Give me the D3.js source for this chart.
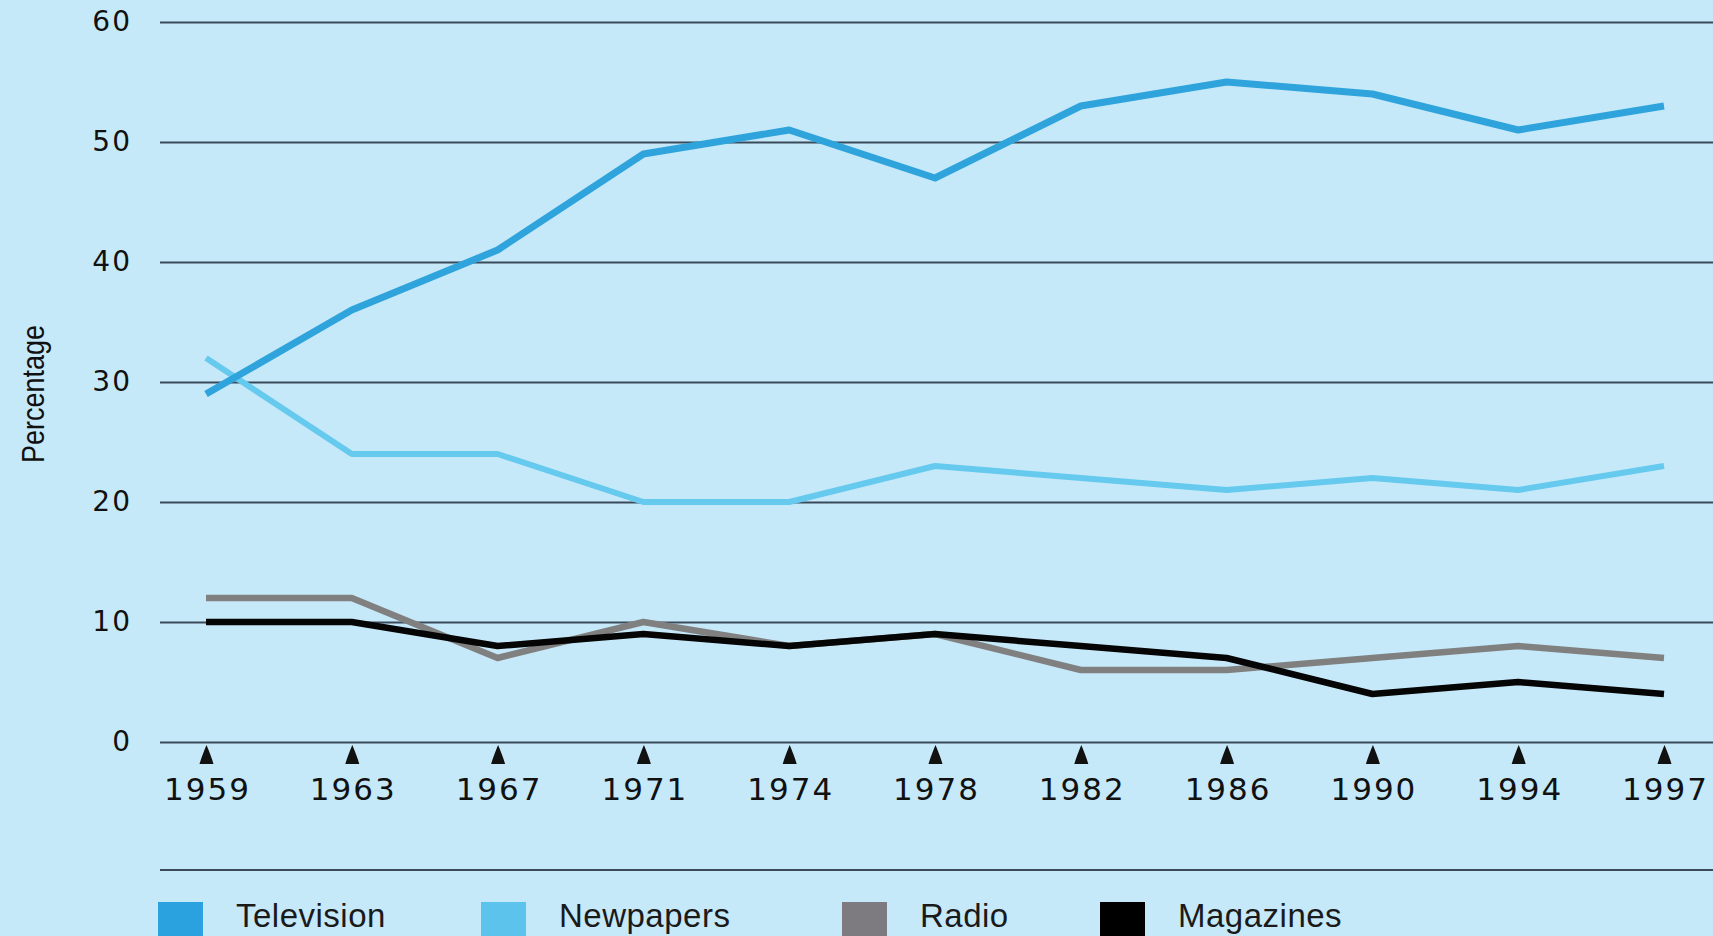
<!DOCTYPE html>
<html>
<head>
<meta charset="utf-8">
<script src="https://cdn.jsdelivr.net/npm/d3@7"></script>
<style>
  html, body { margin: 0; padding: 0; background: #c6e9f9; }
  svg { display: block; }
  .grid line { stroke: #3b4a5a; stroke-width: 2; }
  .y-axis text { font-family: "DejaVu Sans", sans-serif; font-size: 28px; fill: #111; letter-spacing: 2px; }
  .x-axis text { font-family: "DejaVu Sans", sans-serif; font-size: 31px; fill: #111; letter-spacing: 2px; }
  .label { font-family: "Liberation Sans", sans-serif; font-size: 32px; fill: #111; }
  .legend-text { font-family: "Liberation Sans", sans-serif; font-size: 33px; fill: #1a1a1a; letter-spacing: 0.5px; }
  .series { fill: none; stroke-linejoin: round; stroke-linecap: butt; }
</style>
</head>
<body>
<div id="chart"></div>
<script>
var width = 1713;
var height = 936;

// data
var years = ["1959", "1963", "1967", "1971", "1974", "1978", "1982", "1986", "1990", "1994", "1997"];
var television = [29, 36, 41, 49, 51, 47, 53, 55, 54, 51, 53];
var newspapers = [32, 24, 24, 20, 20, 23, 22, 21, 22, 21, 23];
var radio      = [12, 12, 7, 10, 8, 9, 6, 6, 7, 8, 7];
var magazines  = [10, 10, 8, 9, 8, 9, 8, 7, 4, 5, 4];
var yTicks = [0, 10, 20, 30, 40, 50, 60];
var seriesNames = ["Television", "Newpapers", "Radio", "Magazines"];

// styles
var colours = {
  "Television": "#2fa4dc",
  "Newpapers": "#66c9ee",
  "Radio": "#808080",
  "Magazines": "#050505"
};
var legendColours = {
  "Television": "#2aa2df",
  "Newpapers": "#5cc4ec",
  "Radio": "#7d7b80",
  "Magazines": "#000000"
};
var lineWidths = { "Television": 7, "Newpapers": 6, "Radio": 6.5, "Magazines": 6.5 };

var series = [
  { name: "Radio", values: radio },
  { name: "Magazines", values: magazines },
  { name: "Newpapers", values: newspapers },
  { name: "Television", values: television }
];

var svg = d3.select("#chart")
            .append("svg")
              .attr("width", width)
              .attr("height", height);

// scales
var gridLeft = 160;
var xScale = d3.scalePoint()
                .domain(years)
                .range([206, 1664]);

var yScale = d3.scaleLinear()
                .domain([0, 60])
                .range([742, 22]);

// y axis + gridlines
var yAxis = d3.axisLeft(yScale)
              .tickValues(yTicks)
              .tickSize(-(width - gridLeft))
              .tickPadding(28);

svg.append("g")
    .attr("class", "axis y-axis grid")
    .attr("transform", "translate(" + gridLeft + ",0)")
    .call(yAxis)
    .call(function(g) { g.select(".domain").remove(); });

// x axis with triangle markers
var xAxis = d3.axisBottom(xScale).tickSize(0);

var xg = svg.append("g")
    .attr("class", "axis x-axis")
    .attr("transform", "translate(0," + yScale(0) + ")")
    .call(xAxis);

xg.select(".domain").remove();
xg.selectAll(".tick text")
    .attr("y", 58)
    .attr("dy", 0)
    .attr("dx", 1);
xg.selectAll(".tick")
  .append("path")
    .attr("d", "M0,3 C2,8 5,15 7,22 L-7,22 C-5,15 -2,8 0,3 Z")
    .attr("fill", "#111");

// y label
svg.append("text")
    .attr("class", "label")
    .attr("transform", "translate(44,394) rotate(-90)")
    .attr("text-anchor", "middle")
    .attr("textLength", 138)
    .attr("lengthAdjust", "spacingAndGlyphs")
    .text("Percentage");

// separator above legend
svg.append("line")
    .attr("x1", gridLeft)
    .attr("x2", width)
    .attr("y1", 870)
    .attr("y2", 870)
    .attr("stroke", "#3b4a5a")
    .attr("stroke-width", 2);

// lines
var line = d3.line()
              .x(function(d, i) { return xScale(years[i]); })
              .y(function(d) { return yScale(d); });

svg.selectAll(".series")
    .data(series)
    .enter()
  .append("path")
    .attr("class", "series")
    .attr("stroke", function(d) { return colours[d.name]; })
    .attr("stroke-width", function(d) { return lineWidths[d.name]; })
    .attr("d", function(d) { return line(d.values); });

// legend
var legendX = [158, 481, 842, 1100];
var legendRectSize = 45;

var legend = svg.append("g")
                  .attr("class", "legend")
                  .attr("transform", "translate(0,902)");

var items = legend.selectAll(".legend-item")
    .data(seriesNames)
    .enter()
  .append("g")
    .attr("class", "legend-item")
    .attr("transform", function(d, i) { return "translate(" + legendX[i] + ",0)"; });

items.append("rect")
    .attr("width", legendRectSize)
    .attr("height", legendRectSize)
    .attr("fill", function(d) { return legendColours[d]; });

items.append("text")
    .attr("class", "legend-text")
    .attr("x", legendRectSize + 33)
    .attr("y", 25)
    .text(function(d) { return d; });
</script>
</body>
</html>
